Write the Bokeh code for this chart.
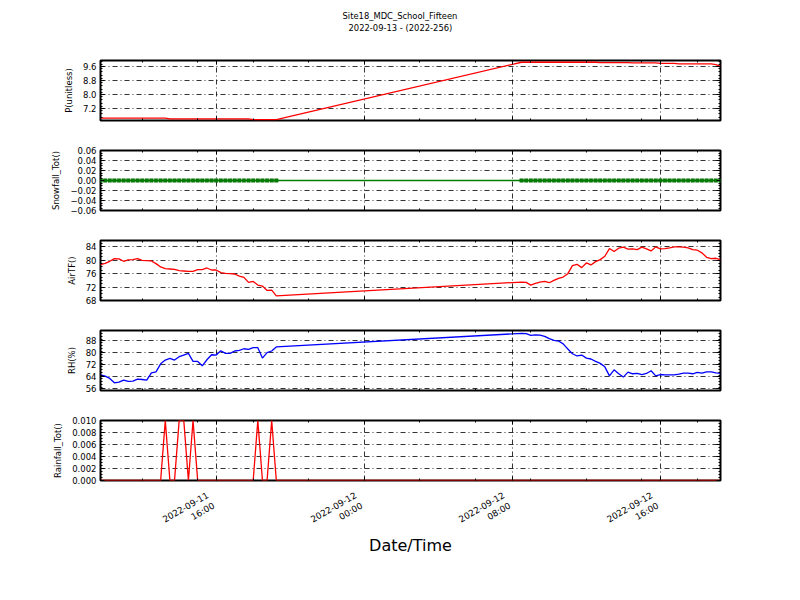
import numpy as np
import pandas as pd
from bokeh.plotting import figure
from bokeh.layouts import column
from bokeh.models import (Range1d, FixedTicker, LinearAxis, DatetimeAxis, Title,
                          CustomJSTickFormatter)
from bokeh.embed import file_html
from bokeh.resources import INLINE

# ---------------- data ----------------
site_title = "Site18_MDC_School_Fifteen"
date_title = "2022-09-13 - (2022-256)"
x_title = "Date/Time"

times_day1 = pd.date_range("2022-09-11 09:45", "2022-09-11 19:15", freq="15min")
times_day2 = pd.date_range("2022-09-12 08:30", "2022-09-12 19:15", freq="15min")

p_day1 = [6.66, 6.66, 6.66, 6.66, 6.66, 6.66, 6.66, 6.66, 6.66, 6.66,
          6.66, 6.66, 6.66, 6.66, 6.66, 6.61, 6.61, 6.61, 6.61, 6.61,
          6.61, 6.61, 6.61, 6.61, 6.61, 6.61, 6.61, 6.61, 6.61, 6.61,
          6.61, 6.61, 6.61, 6.57, 6.57, 6.57, 6.57, 6.57, 6.57]
p_day2 = [9.85, 9.85, 9.85, 9.85, 9.85, 9.85, 9.85, 9.85, 9.85, 9.85,
          9.85, 9.85, 9.85, 9.85, 9.85, 9.85, 9.85, 9.83, 9.83, 9.83,
          9.83, 9.83, 9.83, 9.83, 9.81, 9.81, 9.81, 9.81, 9.81, 9.81,
          9.79, 9.79, 9.79, 9.79, 9.76, 9.76, 9.76, 9.76, 9.76, 9.76,
          9.76, 9.76, 9.72, 9.62]

snow_day1 = [0.0, 0.0, 0.0, 0.0, 0.0, 0.0, 0.0, 0.0, 0.0, 0.0,
             0.0, 0.0, 0.0, 0.0, 0.0, 0.0, 0.0, 0.0, 0.0, 0.0,
             0.0, 0.0, 0.0, 0.0, 0.0, 0.0, 0.0, 0.0, 0.0, 0.0,
             0.0, 0.0, 0.0, 0.0, 0.0, 0.0, 0.0, 0.0, 0.0]
snow_day2 = [0.0, 0.0, 0.0, 0.0, 0.0, 0.0, 0.0, 0.0, 0.0, 0.0,
             0.0, 0.0, 0.0, 0.0, 0.0, 0.0, 0.0, 0.0, 0.0, 0.0,
             0.0, 0.0, 0.0, 0.0, 0.0, 0.0, 0.0, 0.0, 0.0, 0.0,
             0.0, 0.0, 0.0, 0.0, 0.0, 0.0, 0.0, 0.0, 0.0, 0.0,
             0.0, 0.0, 0.0, 0.0]

airt_day1 = [78.7, 79.1, 79.7, 80.5, 80.4, 79.7, 80.1, 80.2, 80.5, 80.0,
             79.9, 79.8, 79.0, 78.0, 77.5, 77.4, 77.3, 76.9, 76.8, 76.7,
             76.7, 77.2, 77.2, 77.7, 77.1, 77.1, 76.3, 76.1, 76.0, 75.9,
             75.3, 74.9, 73.4, 73.7, 72.6, 72.3, 71.0, 71.1, 69.4]
airt_day2 = [73.5, 73.4, 72.6, 73.1, 73.5, 73.7, 73.3, 74.0, 74.6, 75.0,
             76.0, 78.4, 78.8, 77.8, 79.2, 78.6, 79.6, 80.2, 81.2, 83.5,
             82.6, 83.6, 83.9, 83.3, 83.4, 83.2, 83.9, 83.4, 82.8, 84.0,
             83.4, 83.5, 83.7, 84.0, 84.0, 83.9, 83.7, 83.2, 83.0, 82.2,
             80.9, 80.5, 80.6, 80.2]

rh_day1 = [65.1, 64.2, 62.7, 59.8, 60.2, 61.6, 60.7, 60.9, 62.2, 62.0,
           61.6, 66.4, 67.1, 72.4, 74.9, 76.0, 74.9, 77.1, 78.2, 79.3,
           74.0, 74.0, 71.1, 75.1, 78.4, 78.2, 81.1, 79.3, 79.3, 80.9,
           81.3, 82.4, 82.0, 83.1, 83.1, 76.2, 79.8, 80.9, 83.6]
rh_day2 = [92.6, 92.4, 91.2, 91.6, 91.4, 90.6, 89.1, 87.9, 87.5, 85.6,
           82.2, 79.1, 77.6, 78.2, 76.2, 75.6, 74.0, 72.7, 70.4, 64.4,
           68.4, 65.8, 63.6, 66.9, 65.8, 66.0, 65.3, 66.0, 67.8, 64.4,
           65.3, 65.1, 65.1, 65.1, 65.6, 66.2, 66.2, 65.8, 66.7, 66.2,
           67.1, 67.1, 66.4, 66.0]

rain_day1 = [0.0, 0.0, 0.0, 0.0, 0.0, 0.0, 0.0, 0.0, 0.0, 0.0,
             0.0, 0.0, 0.0, 0.0, 0.01, 0.0, 0.0, 0.01, 0.01, 0.0,
             0.01, 0.0, 0.0, 0.0, 0.0, 0.0, 0.0, 0.0, 0.0, 0.0,
             0.0, 0.0, 0.0, 0.0, 0.01, 0.0, 0.0, 0.01, 0.0]
rain_day2 = [0.0, 0.0, 0.0, 0.0, 0.0, 0.0, 0.0, 0.0, 0.0, 0.0,
             0.0, 0.0, 0.0, 0.0, 0.0, 0.0, 0.0, 0.0, 0.0, 0.0,
             0.0, 0.0, 0.0, 0.0, 0.0, 0.0, 0.0, 0.0, 0.0, 0.0,
             0.0, 0.0, 0.0, 0.0, 0.0, 0.0, 0.0, 0.0, 0.0, 0.0,
             0.0, 0.0, 0.0, 0.0]

x_major_ticks = ["2022-09-11 16:00", "2022-09-12 00:00", "2022-09-12 08:00", "2022-09-12 16:00"]
x_minor_ticks = ["2022-09-11 12:00", "2022-09-11 15:00", "2022-09-11 18:00", "2022-09-11 21:00",
                 "2022-09-12 00:00", "2022-09-12 03:00", "2022-09-12 06:00", "2022-09-12 09:00",
                 "2022-09-12 12:00", "2022-09-12 15:00", "2022-09-12 18:00"]

p_ticks = [7.2, 8.0, 8.8, 9.6]
snow_ticks = [-0.06, -0.04, -0.02, 0.0, 0.02, 0.04, 0.06]
airt_ticks = [68, 72, 76, 80, 84]
rh_ticks = [56, 64, 72, 80, 88]
rain_ticks = [0.0, 0.002, 0.004, 0.006, 0.008, 0.010]

# ---------------- helpers ----------------
def ms(s):
    return pd.Timestamp(s).value // 10**6

times = times_day1.append(times_day2)
xr = Range1d(start=ms("2022-09-11 09:45"), end=ms("2022-09-12 19:15"))
x_ticker = FixedTicker(ticks=[ms(t) for t in x_major_ticks],
                       minor_ticks=[ms(t) for t in x_minor_ticks])

FONT = "DejaVu Sans"
SMALL = "8.5px"
GRID_DASH = "5 3 1 3"


def num_fmt(dec):
    return CustomJSTickFormatter(args=dict(dec=dec), code="""
        const s = Math.abs(tick).toFixed(dec);
        return (tick < -1e-12 ? '\u2212' : '') + s;
    """)


# trailing empty line so that the rotated block is anchored on its second line,
# putting the right ends of the labels at the tick like a right-aligned label
date_fmt = CustomJSTickFormatter(code="""
    const d = new Date(tick);
    const p = (n) => String(n).padStart(2, '0');
    const nb = '\u00a0';
    return d.getUTCFullYear() + '-' + p(d.getUTCMonth() + 1) + '-' + p(d.getUTCDate()) + nb
           + '\\n' + p(d.getUTCHours()) + ':' + p(d.getUTCMinutes()) + nb + '\\n ';
""")


def style_ticks(ax):
    ax.major_tick_in = 4
    ax.major_tick_out = 0
    ax.minor_tick_in = 2
    ax.minor_tick_out = 0
    ax.major_tick_line_color = "black"
    ax.minor_tick_line_color = "black"
    ax.axis_line_color = None


def hide_labels(ax):
    ax.major_label_text_color = None
    ax.major_label_standoff = 0
    ax.axis_label = None


def make_panel(y, color, ylabel, yr, yticks, dec, first=False, last=False, markers=False):
    step = yticks[1] - yticks[0]
    minor = list(np.arange(yr[0] - step, yr[1] + step, step / 4.0))
    minor = [m for m in minor if yr[0] <= m <= yr[1]]
    y_ticker = FixedTicker(ticks=yticks, minor_ticks=minor)

    p = figure(frame_width=620, frame_height=60, x_range=xr, y_range=Range1d(*yr),
               x_axis_type="datetime", output_backend="svg", toolbar_location=None,
               title=None,
               min_border_left=100, min_border_right=72,
               min_border_top=20 if first else 15,
               min_border_bottom=105 if last else 15)
    p.background_fill_color = "white"
    p.border_fill_color = "white"
    p.outline_line_color = "black"
    p.outline_line_width = 2
    p.outline_line_alpha = 1

    # bottom axis
    xa = p.xaxis[0]
    xa.ticker = x_ticker
    style_ticks(xa)
    if last:
        xa.formatter = date_fmt
        xa.major_label_orientation = np.pi / 6
        xa.major_label_text_font = FONT
        xa.major_label_text_font_size = "8.8px"
        xa.major_label_text_color = "black"
        xa.major_label_standoff = 23
        xa.axis_label = x_title
        xa.axis_label_text_font = FONT
        xa.axis_label_text_font_size = "16px"
        xa.axis_label_text_font_style = "normal"
        xa.axis_label_text_color = "black"
        xa.axis_label_standoff = -27
    else:
        hide_labels(xa)

    # left axis
    ya = p.yaxis[0]
    ya.ticker = y_ticker
    ya.formatter = num_fmt(dec)
    style_ticks(ya)
    ya.major_label_text_font = FONT
    ya.major_label_text_font_size = SMALL
    ya.major_label_text_color = "black"
    ya.major_label_standoff = 4
    ya.axis_label = ylabel
    ya.axis_label_text_font = FONT
    ya.axis_label_text_font_size = SMALL
    ya.axis_label_text_font_style = "normal"
    ya.axis_label_text_color = "black"
    ya.axis_label_standoff = 6

    # right and top axes (ticks only)
    ra = LinearAxis(ticker=y_ticker)
    style_ticks(ra)
    hide_labels(ra)
    p.add_layout(ra, "right")
    ta = DatetimeAxis(ticker=x_ticker)
    style_ticks(ta)
    hide_labels(ta)
    p.add_layout(ta, "above")

    for g in (p.xgrid[0], p.ygrid[0]):
        g.grid_line_color = "black"
        g.grid_line_dash = GRID_DASH
        g.grid_line_width = 0.8
        g.grid_line_alpha = 1
    p.xgrid[0].ticker = x_ticker
    p.ygrid[0].ticker = y_ticker

    p.line(times, y, line_color=color, line_width=1.3)
    if markers:
        p.scatter(times, y, marker="square", size=3.6, fill_color=color,
                  line_color="#006000", line_width=0.4)
    return p


# header carrying the two-line title
header = figure(frame_width=620, frame_height=8, min_border_left=100, min_border_right=72,
                min_border_top=32, min_border_bottom=0, output_backend="svg",
                toolbar_location=None, title=None,
                x_axis_location=None, y_axis_location=None)
header.outline_line_color = None
header.grid.visible = False
header.background_fill_color = "white"
header.border_fill_color = "white"
header.add_layout(Title(text=date_title, align="left", offset=248, standoff=0,
                        text_font=FONT, text_font_size="8.4px", text_font_style="normal",
                        text_color="black"), "above")
header.add_layout(Title(text=site_title, align="left", offset=242, standoff=0,
                        text_font=FONT, text_font_size="8.4px", text_font_style="normal",
                        text_color="black"), "above")

p1 = make_panel(p_day1 + p_day2, "#ff0000", "P(unitless)", (6.52, 9.95), p_ticks, 1, first=True)
p2 = make_panel(snow_day1 + snow_day2, "#008000", "Snowfall_Tot()", (-0.06, 0.06), snow_ticks, 2, markers=True)
p3 = make_panel(airt_day1 + airt_day2, "#ff0000", "AirTF()", (68, 85.9), airt_ticks, 0)
p4 = make_panel(rh_day1 + rh_day2, "#0000ff", "RH(%)", (54.7, 94.5), rh_ticks, 0)
p5 = make_panel(rain_day1 + rain_day2, "#ff0000", "Rainfall_Tot()", (0.0, 0.010), rain_ticks, 3, last=True)

layout = column(header, p1, p2, p3, p4, p5, spacing=0)

with open("out.html", "w") as f:
    f.write(file_html(layout, INLINE))
